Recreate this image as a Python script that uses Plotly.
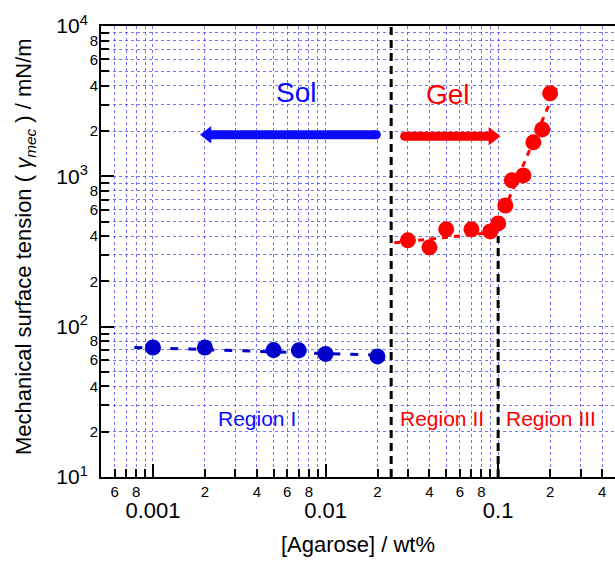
import math
import plotly.graph_objects as go

# ---------------- data ----------------
sol_conc = [0.001, 0.002, 0.005, 0.007, 0.01, 0.02]
sol_tension = [72.7, 72.7, 69.9, 69.6, 65.9, 63.4]

gel_conc = [0.03, 0.04, 0.05, 0.07, 0.09, 0.10, 0.11, 0.12, 0.14, 0.16, 0.18, 0.20]
gel_tension = [375, 337, 444, 444, 430, 486, 640, 940, 1014, 1683, 2051, 3565]

sol_fit_conc = [0.00078, 0.022]
sol_fit_tension = [72.8, 64.4]
gel_fit1_conc = [0.025, 0.089]
gel_fit1_tension = [361, 421]
gel_fit2_conc = [0.095, 0.217]
gel_fit2_tension = [420, 3884]

sol_gel_boundary = [0.024, 0.024]
sol_gel_boundary_y = [10, 10000]
region3_boundary = [0.1, 0.1]
region3_boundary_y = [10, 400]

sol_arrow_conc = [0.00207, 0.0197]
sol_arrow_y = [1890, 1890]
gel_arrow_conc = [0.0287, 0.0929]
gel_arrow_y = [1845, 1845]

# ---------------- ticks ----------------
x_range = [math.log10(0.0005), -0.323]
y_range = [1, 4]

x_major = [0.001, 0.01, 0.1]
x_major_text = ["0.001", "0.01", "0.1"]
x_minor_lab = [0.0006, 0.0008, 0.002, 0.004, 0.006, 0.008, 0.02, 0.04, 0.06, 0.08, 0.2, 0.4]
x_minor_text = ["6", "8", "2", "4", "6", "8", "2", "4", "6", "8", "2", "4"]
x_minor_ticks = [m * 1e-4 for m in range(6, 10)] + [m * d for d in (1e-3, 1e-2) for m in range(2, 10)] + [m * 0.1 for m in range(2, 5)]

y_major = [10, 100, 1000, 10000]
y_major_text = ["10<sup>1</sup>", "10<sup>2</sup>", "10<sup>3</sup>", "10<sup>4</sup>"]
y_minor_lab = [20, 40, 60, 80, 200, 400, 600, 800, 2000, 4000, 6000, 8000]
y_minor_text = ["2", "4", "6", "8"] * 3
y_minor_ticks = [m * d for d in (10, 100, 1000) for m in range(2, 10)]

BLUE = "#0000c8"
BLUE_T = "#0a0aff"
RED = "#ff0000"
GRID = "rgba(70,70,255,0.75)"
FONT = "Liberation Sans, Arial, sans-serif"

fig = go.Figure()

# region boundaries
fig.add_trace(go.Scatter(x=sol_gel_boundary, y=sol_gel_boundary_y, mode="lines",
                         line=dict(color="black", width=3, dash="8px,5px"), hoverinfo="skip"))
fig.add_trace(go.Scatter(x=region3_boundary, y=region3_boundary_y, mode="lines",
                         line=dict(color="black", width=3, dash="8px,5px"), hoverinfo="skip"))

# sol data (drawn on the overlaying axes, identical scales)
fig.add_trace(go.Scatter(x=sol_fit_conc, y=sol_fit_tension, mode="lines", xaxis="x2", yaxis="y2",
                         line=dict(color=BLUE, width=3, dash="8px,10px")))
fig.add_trace(go.Scatter(x=sol_conc, y=sol_tension, mode="markers", xaxis="x2", yaxis="y2",
                         marker=dict(color=BLUE, size=16, line=dict(width=0))))

# gel data
fig.add_trace(go.Scatter(x=gel_fit1_conc, y=gel_fit1_tension, mode="lines",
                         line=dict(color=RED, width=3, dash="6px,6px")))
fig.add_trace(go.Scatter(x=gel_fit2_conc, y=gel_fit2_tension, mode="lines",
                         line=dict(color=RED, width=3, dash="6px,6px")))
fig.add_trace(go.Scatter(x=gel_conc, y=gel_tension, mode="markers",
                         marker=dict(color=RED, size=16, line=dict(width=0))))

# arrows
fig.add_trace(go.Scatter(x=sol_arrow_conc, y=sol_arrow_y, mode="lines+markers",
                         line=dict(color=BLUE_T, width=9),
                         marker=dict(color=BLUE_T, size=[0, 9], symbol="circle", opacity=1,
                                     line=dict(width=0))))
fig.add_trace(go.Scatter(x=sol_arrow_conc[:1], y=sol_arrow_y[:1], mode="markers",
                         marker=dict(color=BLUE_T, size=15, symbol="triangle-left", line=dict(width=0))))
fig.add_trace(go.Scatter(x=gel_arrow_conc, y=gel_arrow_y, mode="lines+markers",
                         line=dict(color=RED, width=9),
                         marker=dict(color=RED, size=[9, 0], symbol="circle", opacity=1,
                                     line=dict(width=0))))
fig.add_trace(go.Scatter(x=gel_arrow_conc[1:], y=gel_arrow_y[1:], mode="markers",
                         marker=dict(color=RED, size=16, symbol="triangle-right", line=dict(width=0))))

axis_common = dict(type="log", showline=True, linecolor="black", linewidth=2,
                   zeroline=False, ticks="inside", tickcolor="black")

fig.update_layout(
    width=615, height=561,
    margin=dict(l=101, r=0, t=26, b=84),
    paper_bgcolor="white", plot_bgcolor="white",
    showlegend=False,
    font=dict(family=FONT, color="black"),
    xaxis=dict(**axis_common, range=x_range, mirror=True,
               tickvals=x_major, ticktext=x_major_text, ticklen=13, tickwidth=2,
               tickfont=dict(size=22), ticklabelstandoff=13,
               showgrid=True, gridcolor=GRID, griddash="dot", gridwidth=1,
               minor=dict(tickvals=x_minor_ticks, ticks="inside", ticklen=8, tickwidth=1.5,
                          tickcolor="black", showgrid=True, gridcolor=GRID, griddash="dot", gridwidth=1),
               title=dict(text="[Agarose] / wt%", font=dict(size=22), standoff=14)),
    xaxis2=dict(type="log", range=x_range, overlaying="x", anchor="y2", side="bottom",
                showline=False, showgrid=False, zeroline=False, ticks="",
                tickvals=x_minor_lab, ticktext=x_minor_text, tickfont=dict(size=15),
                ticklabelstandoff=4),
    yaxis=dict(**axis_common, range=y_range,
               tickvals=y_major, ticktext=y_major_text, ticklen=13, tickwidth=2,
               tickfont=dict(size=21), ticklabelstandoff=7,
               showgrid=True, gridcolor=GRID, griddash="dot", gridwidth=1,
               minor=dict(tickvals=y_minor_ticks, ticks="inside", ticklen=8, tickwidth=1.5,
                          tickcolor="black", showgrid=True, gridcolor=GRID, griddash="dot", gridwidth=1)),
    yaxis2=dict(type="log", range=y_range, overlaying="y", anchor="x2", side="left",
                showline=False, showgrid=False, zeroline=False, ticks="",
                tickvals=y_minor_lab, ticktext=y_minor_text, tickfont=dict(size=15),
                ticklabelstandoff=2),
)

annotations = [
    dict(text="Sol", x=-2.169, y=3.56, font=dict(size=28, color=BLUE_T)),
    dict(text="Gel", x=-1.2885, y=3.547, font=dict(size=28, color=RED)),
    dict(text="Region I", x=-2.399, y=1.386, font=dict(size=21, color=BLUE_T)),
    dict(text="Region II", x=-1.327, y=1.386, font=dict(size=21, color=RED)),
    dict(text="Region III", x=-0.692, y=1.386, font=dict(size=21, color=RED)),
]
for a in annotations:
    a.update(xref="x", yref="y", showarrow=False, xanchor="center", yanchor="middle")
    fig.add_annotation(**a)

fig.add_annotation(text="Mechanical surface tension ( <i>γ</i><sub><i>mec</i></sub> ) / mN/m",
                   xref="paper", yref="paper", x=0, y=0.51, xshift=-76,
                   xanchor="center", yanchor="middle", textangle=-90,
                   showarrow=False, font=dict(size=22, color="black"))

fig.write_html("out.html", config={"displayModeBar": False},
               post_script="document.body.style.margin='0';")
